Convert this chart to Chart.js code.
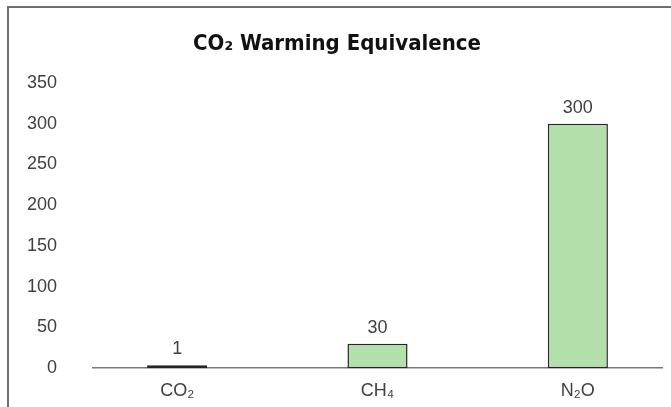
<!DOCTYPE html>
<html>
<head>
<meta charset="utf-8">
<script src="https://cdn.jsdelivr.net/npm/chart.js@4.4.1/dist/chart.umd.min.js"></script>
<style>
  html, body { margin: 0; padding: 0; background: #fff; overflow: hidden; }
  #frame { position: absolute; left: 7px; top: 6px; width: 800px; height: 600px; border: 2px solid #6f6f6f; }
  #gwpChart { position: absolute; left: 0; top: 0; }
</style>
</head>
<body>
<div id="frame"></div>
<canvas id="gwpChart" width="671" height="407"></canvas>
<script>
// Chart data
const categories = ['CO₂', 'CH₄', 'N₂O'];
const warmingValues = [1, 30, 300];
const yTicks = [0, 50, 100, 150, 200, 250, 300, 350];

const tickFont = { family: "'Liberation Sans', Arial, sans-serif", size: 18 };
const textColor = '#404040';

// Draw the value above each bar
const barValueLabels = {
    id: 'barValueLabels',
    afterDatasetsDraw(chart) {
        const ctx = chart.ctx;
        const meta = chart.getDatasetMeta(0);
        ctx.save();
        ctx.font = tickFont.size + 'px ' + tickFont.family;
        ctx.fillStyle = textColor;
        ctx.textAlign = 'center';
        ctx.textBaseline = 'middle';
        meta.data.forEach((bar, i) => {
            ctx.fillText(String(warmingValues[i]), bar.x, bar.y - 16);
        });
        ctx.restore();
    }
};

const ctx = document.getElementById('gwpChart').getContext('2d');
const gwpChart = new Chart(ctx, {
    type: 'bar',
    data: {
        datasets: [{
            data: warmingValues.map((v, i) => ({ x: i, y: v })),
            backgroundColor: '#b3dfab',
            borderColor: '#262626',
            borderWidth: 1.5,
            borderSkipped: false,
            minBarLength: 3,
            barPercentage: 0.3,
            categoryPercentage: 1
        }]
    },
    options: {
        responsive: false,
        animation: false,
        layout: { padding: { top: 7, right: 9, bottom: 0, left: 12 } },
        plugins: {
            legend: { display: false },
            tooltip: { enabled: false },
            title: {
                display: true,
                text: 'CO₂ Warming Equivalence',
                color: '#111',
                font: { family: "'DejaVu Sans Condensed', 'Liberation Sans', sans-serif", size: 22, weight: 'bold' },
                padding: { top: 24, bottom: 25.6 }
            }
        },
        scales: {
            x: {
                type: 'linear',
                offset: false,
                min: -0.42,
                max: 2.42,
                grid: { display: false },
                border: { display: true, color: '#7a7a7a', width: 1.5 },
                ticks: {
                    stepSize: 1,
                    autoSkip: false,
                    maxRotation: 0,
                    padding: 4,
                    color: textColor,
                    font: tickFont,
                    callback: (v) => Number.isInteger(v) ? categories[v] : null
                },
                afterFit: (scale) => { scale.height = 36; }
            },
            y: {
                min: 0,
                max: yTicks[yTicks.length - 1],
                grid: { display: false },
                border: { display: false },
                afterBuildTicks: (scale) => { scale.ticks = yTicks.map(v => ({ value: v })); },
                ticks: {
                    padding: 28,
                    color: textColor,
                    font: tickFont
                },
                afterFit: (scale) => { scale.width = 81; }
            }
        }
    },
    plugins: [barValueLabels]
});
</script>
</body>
</html>
